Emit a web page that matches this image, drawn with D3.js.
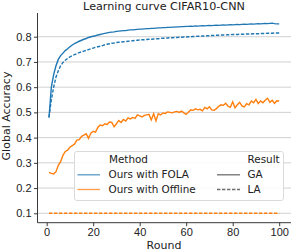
<!DOCTYPE html>
<html>
<head>
<meta charset="utf-8">
<script src="https://cdn.jsdelivr.net/npm/d3@7/dist/d3.min.js"></script>
<style>
  html, body { margin: 0; padding: 0; background: #fff; }
  svg { display: block; font-family: "DejaVu Sans", sans-serif; }
  .grid line { stroke: #cccccc; stroke-width: 0.9; }
  .axis path, .axis line { stroke: #222; stroke-width: 0.9; }
  .axis text { fill: #222; font-size: 11px; }
</style>
</head>
<body>
<svg id="chart" width="291" height="251"></svg>
<script>
var rounds = d3.range(1, 101);

var folaGA = [
  0.480, 0.600, 0.650, 0.685, 0.710, 0.725, 0.735, 0.745, 0.752, 0.760,
  0.767, 0.773, 0.778, 0.782, 0.786, 0.790, 0.793, 0.797, 0.800, 0.802,
  0.804, 0.807, 0.809, 0.811, 0.813, 0.815, 0.817, 0.818, 0.819, 0.821,
  0.822, 0.823, 0.824, 0.824, 0.826, 0.827, 0.827, 0.828, 0.829, 0.830,
  0.830, 0.831, 0.832, 0.832, 0.833, 0.833, 0.834, 0.835, 0.835, 0.836,
  0.836, 0.837, 0.837, 0.838, 0.838, 0.839, 0.839, 0.840, 0.840, 0.841,
  0.841, 0.842, 0.841, 0.843, 0.842, 0.843, 0.844, 0.843, 0.844, 0.845,
  0.844, 0.845, 0.846, 0.845, 0.846, 0.847, 0.846, 0.847, 0.848, 0.847,
  0.848, 0.849, 0.848, 0.849, 0.850, 0.849, 0.850, 0.851, 0.850, 0.851,
  0.852, 0.851, 0.852, 0.853, 0.852, 0.853, 0.854, 0.852, 0.851, 0.851
];

var folaLA = [
  0.480, 0.550, 0.600, 0.640, 0.665, 0.685, 0.698, 0.707, 0.714, 0.720,
  0.725, 0.729, 0.733, 0.737, 0.740, 0.743, 0.746, 0.749, 0.752, 0.755,
  0.758, 0.760, 0.762, 0.765, 0.768, 0.770, 0.772, 0.774, 0.775, 0.777,
  0.778, 0.779, 0.780, 0.781, 0.782, 0.783, 0.784, 0.785, 0.786, 0.787,
  0.788, 0.788, 0.789, 0.790, 0.790, 0.791, 0.792, 0.792, 0.793, 0.794,
  0.794, 0.795, 0.796, 0.796, 0.797, 0.797, 0.798, 0.798, 0.799, 0.799,
  0.800, 0.800, 0.801, 0.801, 0.802, 0.802, 0.803, 0.803, 0.804, 0.804,
  0.805, 0.805, 0.806, 0.806, 0.807, 0.807, 0.807, 0.808, 0.808, 0.809,
  0.809, 0.809, 0.810, 0.810, 0.810, 0.811, 0.811, 0.811, 0.812, 0.812,
  0.812, 0.813, 0.813, 0.813, 0.814, 0.814, 0.814, 0.815, 0.815, 0.815
];

var offlineGA = [
  0.262, 0.258, 0.256, 0.265, 0.290, 0.305, 0.330, 0.345, 0.350, 0.362,
  0.368, 0.375, 0.390, 0.392, 0.405, 0.410, 0.415, 0.397, 0.418, 0.425,
  0.422, 0.440, 0.450, 0.447, 0.455, 0.452, 0.462, 0.460, 0.443, 0.455,
  0.468, 0.460, 0.472, 0.466, 0.478, 0.474, 0.480, 0.476, 0.490, 0.486,
  0.482, 0.488, 0.490, 0.492, 0.470, 0.495, 0.466, 0.495, 0.490, 0.498,
  0.496, 0.502, 0.500, 0.498, 0.502, 0.504, 0.500, 0.505, 0.498, 0.492,
  0.502, 0.510, 0.508, 0.514, 0.510, 0.512, 0.506, 0.520, 0.514, 0.522,
  0.510, 0.508, 0.515, 0.524, 0.530, 0.528, 0.536, 0.525, 0.520, 0.542,
  0.518, 0.530, 0.540, 0.526, 0.522, 0.535, 0.530, 0.545, 0.538, 0.552,
  0.535, 0.545, 0.538, 0.548, 0.556, 0.540, 0.548, 0.536, 0.546, 0.545
];

var offlineLA = [
  0.1, 0.1, 0.1, 0.1, 0.1, 0.1, 0.1, 0.1, 0.1, 0.1,
  0.1, 0.1, 0.1, 0.1, 0.1, 0.1, 0.1, 0.1, 0.1, 0.1,
  0.1, 0.1, 0.1, 0.1, 0.1, 0.1, 0.1, 0.1, 0.1, 0.1,
  0.1, 0.1, 0.1, 0.1, 0.1, 0.1, 0.1, 0.1, 0.1, 0.1,
  0.1, 0.1, 0.1, 0.1, 0.1, 0.1, 0.1, 0.1, 0.1, 0.1,
  0.1, 0.1, 0.1, 0.1, 0.1, 0.1, 0.1, 0.1, 0.1, 0.1,
  0.1, 0.1, 0.1, 0.1, 0.1, 0.1, 0.1, 0.1, 0.1, 0.1,
  0.1, 0.1, 0.1, 0.1, 0.1, 0.1, 0.1, 0.1, 0.1, 0.1,
  0.1, 0.1, 0.1, 0.1, 0.1, 0.1, 0.1, 0.1, 0.1, 0.1,
  0.1, 0.1, 0.1, 0.1, 0.1, 0.1, 0.1, 0.1, 0.1, 0.1
];

var methods = ["Ours with FOLA", "Ours with Offline"];
var methodColors = ["#1f77b4", "#ff7f0e"];
var results = ["GA", "LA"];
var resultDash = [null, "3.4,1.6"];
var xTicks = [0, 20, 40, 60, 80, 100];
var yTicks = [0.1, 0.2, 0.3, 0.4, 0.5, 0.6, 0.7, 0.8];

var series = [
  { method: 0, result: 0, values: folaGA },
  { method: 0, result: 1, values: folaLA },
  { method: 1, result: 0, values: offlineGA },
  { method: 1, result: 1, values: offlineLA }
];

(function() {
  var svg = d3.select("#chart"),
      left = 37.5, right = 291, top = 13, bottom = 222.7;

  var x = d3.scaleLinear().domain([-3.95, 104.95]).range([left, 290.7]);
  var y = d3.scaleLinear().domain([0.0627, 0.894]).range([bottom, top]);

  // horizontal grid
  svg.append("g").attr("class", "grid")
    .selectAll("line").data(yTicks).enter().append("line")
    .attr("x1", left).attr("x2", right)
    .attr("y1", function(d) { return y(d); })
    .attr("y2", function(d) { return y(d); });

  var line = d3.line()
    .x(function(d, i) { return x(rounds[i]); })
    .y(function(d) { return y(d); });

  svg.append("g").selectAll("path").data(series).enter().append("path")
    .attr("fill", "none")
    .attr("stroke", function(d) { return methodColors[d.method]; })
    .attr("stroke-width", 1.4)
    .attr("stroke-dasharray", function(d) { return resultDash[d.result]; })
    .attr("d", function(d) { return line(d.values); });

  // axes (only left + bottom spines)
  var xAxis = svg.append("g").attr("class", "axis")
    .attr("transform", "translate(0," + bottom + ")")
    .call(d3.axisBottom(x).tickValues(xTicks).tickSize(3.5).tickPadding(2).tickSizeOuter(0));
  xAxis.select(".domain").attr("d", "M" + left + ",0H" + right);

  var yAxis = svg.append("g").attr("class", "axis")
    .attr("transform", "translate(" + left + ",0)")
    .call(d3.axisLeft(y).tickValues(yTicks).tickFormat(d3.format(".1f"))
      .tickSize(3.5).tickPadding(2.5).tickSizeOuter(0));
  yAxis.select(".domain").attr("d", "M0," + top + "V" + bottom);

  svg.append("text")
    .attr("x", 164).attr("y", 9.5)
    .attr("text-anchor", "middle")
    .style("font-size", "11.2px").attr("fill", "#222")
    .text("Learning curve CIFAR10-CNN");

  svg.append("text")
    .attr("x", 164).attr("y", 248.5)
    .attr("text-anchor", "middle")
    .style("font-size", "11px").attr("fill", "#222")
    .text("Round");

  svg.append("text")
    .attr("transform", "translate(9.5,116) rotate(-90)")
    .attr("text-anchor", "middle")
    .style("font-size", "11px").attr("fill", "#222")
    .text("Global Accuracy");

  // legend
  var lg = svg.append("g").attr("transform", "translate(74,151)");
  lg.append("rect")
    .attr("x", 0.5).attr("y", 0.5).attr("width", 209).attr("height", 49)
    .attr("rx", 2.5)
    .attr("fill", "#fff").attr("fill-opacity", 0.85)
    .attr("stroke", "#d6d6d6").attr("stroke-width", 0.9);

  var rowY = [8.8, 23.8, 38.5];
  var lgFont = "10.4px";

  lg.append("text").attr("x", 35).attr("y", rowY[0]).attr("dy", "0.35em")
    .style("font-size", lgFont).attr("fill", "#222").text("Method");
  lg.append("text").attr("x", 173.5).attr("y", rowY[0]).attr("dy", "0.35em")
    .style("font-size", lgFont).attr("fill", "#222").text("Result");

  var mRow = lg.selectAll(".mrow").data(methods).enter().append("g")
    .attr("transform", function(d, i) { return "translate(0," + rowY[i + 1] + ")"; });
  mRow.append("line")
    .attr("x1", 3.5).attr("x2", 26)
    .attr("stroke", function(d, i) { return methodColors[i]; })
    .attr("stroke-opacity", 0.75)
    .attr("stroke-width", 1.3);
  mRow.append("text").attr("x", 34.5).attr("dy", "0.35em")
    .style("font-size", lgFont).attr("fill", "#222")
    .text(function(d) { return d; });

  var rRow = lg.selectAll(".rrow").data(results).enter().append("g")
    .attr("transform", function(d, i) { return "translate(0," + rowY[i + 1] + ")"; });
  rRow.append("line")
    .attr("x1", 143).attr("x2", 166)
    .attr("stroke", "#555")
    .attr("stroke-opacity", 0.85)
    .attr("stroke-width", 1.3)
    .attr("stroke-dasharray", function(d, i) { return resultDash[i]; });
  rRow.append("text").attr("x", 173.5).attr("dy", "0.35em")
    .style("font-size", lgFont).attr("fill", "#222")
    .text(function(d) { return d; });
})();
</script>
</body>
</html>
